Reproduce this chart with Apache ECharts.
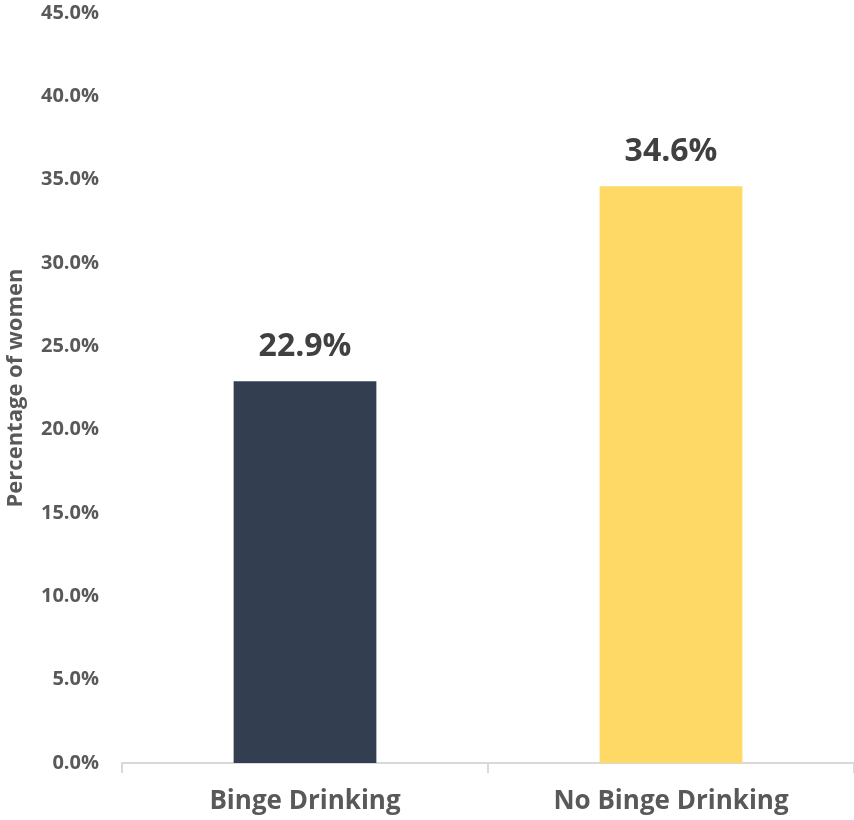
<!DOCTYPE html>
<html>
<head>
<meta charset="utf-8">
<script src="https://cdn.jsdelivr.net/npm/echarts@6/dist/echarts.min.js"></script>
<style>
    html, body { margin: 0; padding: 0; background: #fff; }
    #chart { width: 854px; height: 820px; }
</style>
</head>
<body>
<div id="chart"></div>
<script>
// 数据
var categories = ["Binge Drinking", "No Binge Drinking"];
var values = [22.9, 34.6];
var barColors = ["#333F50", "#FFD966"];
var yTicks = [0, 5, 10, 15, 20, 25, 30, 35, 40, 45];

var font = "'Open Sans', sans-serif";

var chart = echarts.init(document.getElementById("chart"));
var option = {
    animation: false,
    grid: {
        left: 122,
        right: 0,
        top: 13,
        bottom: 57,
        containLabel: false,
        outerBoundsMode: "none",
    },
    xAxis: {
        type: "category",
        data: categories,
        axisLine: { show: true, lineStyle: { color: "#D9D9D9", width: 2 } },
        axisTick: { show: true, length: 10, lineStyle: { color: "#D9D9D9", width: 2 } },
        axisLabel: {
            margin: 26,
            color: "#595959",
            fontFamily: font,
            fontWeight: "bold",
            fontSize: 26,
        },
    },
    yAxis: {
        type: "value",
        min: yTicks[0],
        max: yTicks[yTicks.length - 1],
        interval: 5,
        name: "Percentage of women",
        nameLocation: "middle",
        nameGap: 95,
        nameTextStyle: {
            color: "#595959",
            fontFamily: font,
            fontWeight: "bold",
            fontSize: 22,
        },
        splitLine: { show: false },
        axisLine: { show: false },
        axisTick: { show: false },
        axisLabel: {
            margin: 23,
            color: "#595959",
            fontFamily: font,
            fontWeight: "bold",
            fontSize: 20,
            formatter: function (v) { return v.toFixed(1) + "%"; },
        },
    },
    series: [
        {
            type: "bar",
            barWidth: "39%",
            data: values.map(function (v, i) {
                return { value: v, itemStyle: { color: barColors[i] } };
            }),
            label: {
                show: true,
                position: "top",
                distance: 18,
                color: "#404040",
                fontFamily: font,
                fontWeight: "bold",
                fontSize: 32,
                formatter: function (p) { return p.value.toFixed(1) + "%"; },
            },
        },
    ],
};
chart.setOption(option);
</script>
</body>
</html>
